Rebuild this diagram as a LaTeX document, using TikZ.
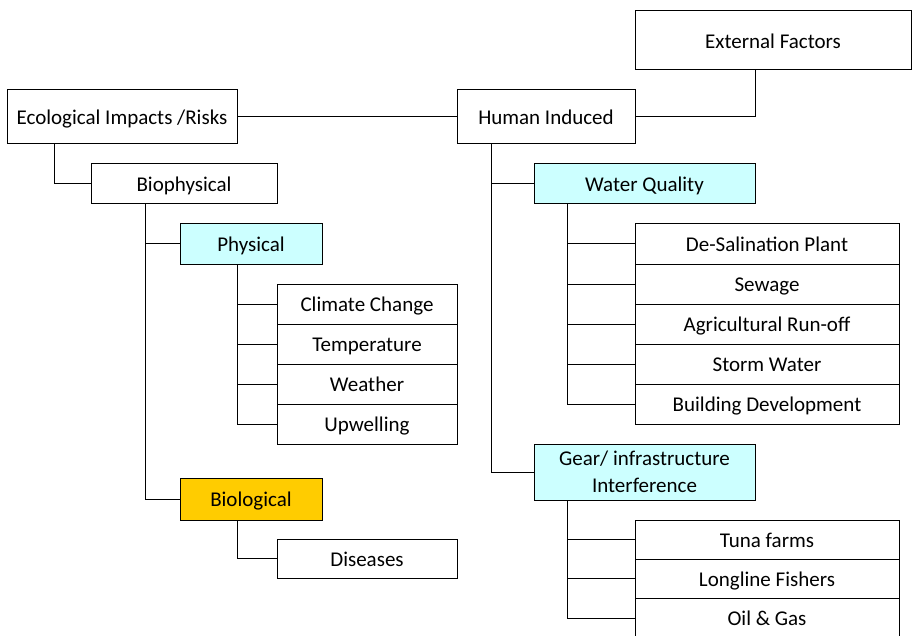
\documentclass[tikz,border=0pt]{standalone}
\usepackage{fontspec}
\setmainfont{Carlito}
\definecolor{cyanbox}{HTML}{CCFFFF}
\definecolor{orangebox}{HTML}{FFCC00}
\begin{document}
\begin{tikzpicture}[x=1pt,y=-1pt,
  base/.style={draw=black,line width=1pt,fill=white,rectangle,inner sep=0pt,outer sep=0pt,anchor=north west,align=center,font=\fontsize{21}{27.5}\selectfont},
  box/.style={base,text height=15.5pt,text depth=0pt},
  cbox/.style={box,fill=cyanbox},
  obox/.style={box,fill=orangebox},
  conn/.style={draw=black,line width=1pt}]
\useasboundingbox (0,0) rectangle (912,636);
% nodes
\node[box,minimum width=230pt,minimum height=54pt] (eco) at (7,90) {Ecological Impacts /Risks};
\node[box,minimum width=276pt,minimum height=59pt] (ext) at (635,11) {External Factors};
\node[box,minimum width=178pt,minimum height=54pt] (hum) at (457,90) {Human Induced};
\node[box,minimum width=186pt,minimum height=40pt] (bio) at (91,164) {Biophysical};
\node[cbox,minimum width=142pt,minimum height=40pt] (phys) at (180,224) {Physical};
\node[box,minimum width=180pt,minimum height=40pt] (cc) at (277,284) {Climate Change};
\node[box,minimum width=180pt,minimum height=40pt] (temp) at (277,324) {Temperature};
\node[box,minimum width=180pt,minimum height=40pt] (wea) at (277,364) {Weather};
\node[box,minimum width=180pt,minimum height=40pt] (upw) at (277,404) {Upwelling};
\node[obox,minimum width=142pt,minimum height=42pt] (biol) at (180,478) {Biological};
\node[box,minimum width=180pt,minimum height=39pt] (dis) at (277,539) {Diseases};
\node[cbox,minimum width=221pt,minimum height=40pt] (wq) at (534,164) {Water Quality};
\node[box,minimum width=264pt,minimum height=40pt] (ds) at (635,224) {De-Salination Plant};
\node[box,minimum width=264pt,minimum height=40pt] (sew) at (635,264) {Sewage};
\node[box,minimum width=264pt,minimum height=40pt] (agr) at (635,304) {Agricultural Run-off};
\node[box,minimum width=264pt,minimum height=40pt] (sto) at (635,344) {Storm Water};
\node[box,minimum width=264pt,minimum height=40pt] (bld) at (635,384) {Building Development};
\node[base,fill=cyanbox,minimum width=221pt,minimum height=56pt] (gear) at (534,444) {Gear/ infrastructure\\Interference};
\node[box,minimum width=264pt,minimum height=39pt] (tuna) at (635,520) {Tuna farms};
\node[box,minimum width=264pt,minimum height=39pt] (long) at (635,559) {Longline Fishers};
\node[box,minimum width=264pt,minimum height=40pt] (oil) at (635,598) {Oil \& Gas};
% connectors
\draw[conn] (eco.east) -- (hum.west);
\draw[conn] (hum.east) -| (wq.east |- ext.south);
\draw[conn] ([xshift=47pt]eco.south west) |- (bio.west);
\draw[conn] ([xshift=54pt]bio.south west) |- (phys.west);
\draw[conn] ([xshift=54pt]bio.south west) |- (biol.west);
\foreach \c in {cc,temp,wea,upw}
  \draw[conn] ([xshift=57pt]phys.south west) |- (\c.west);
\draw[conn] ([xshift=57pt]biol.south west) |- (dis.west);
\draw[conn] ([xshift=34pt]hum.south west) |- (wq.west);
\draw[conn] ([xshift=34pt]hum.south west) |- (gear.west);
\foreach \c in {ds,sew,agr,sto,bld}
  \draw[conn] ([xshift=33pt]wq.south west) |- (\c.west);
\foreach \c in {tuna,long,oil}
  \draw[conn] ([xshift=33pt]gear.south west) |- (\c.west);
\end{tikzpicture}
\end{document}
